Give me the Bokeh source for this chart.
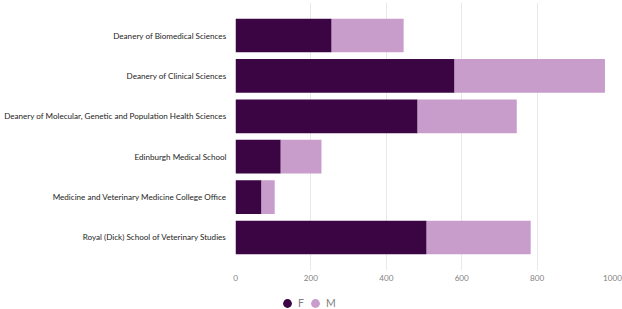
from bokeh.plotting import figure
from bokeh.layouts import column
from bokeh.models import Range1d, Legend, LegendItem, FixedTicker, ColumnDataSource
from bokeh.embed import file_html
from bokeh.resources import INLINE

categories = [
    "Deanery of Biomedical Sciences",
    "Deanery of Clinical Sciences",
    "Deanery of Molecular, Genetic and Population Health Sciences",
    "Edinburgh Medical School",
    "Medicine and Veterinary Medicine College Office",
    "Royal (Dick) School of Veterinary Studies",
]
female = [255, 581, 483, 120, 69, 507]
male = [191, 399, 263, 108, 35, 276]
x_ticks = [0, 200, 400, 600, 800, 1000]
series_names = ["F", "M"]
series_colors = ["#3B0443", "#C89DCB"]

ypos = list(range(len(categories)))
right_m = [f + m for f, m in zip(female, male)]
src = ColumnDataSource(dict(y=ypos, f=female, fm=right_m))

FONT = "Lato"

p = figure(width=622, height=288, output_backend="svg", toolbar_location=None,
           x_range=Range1d(0, 1000), y_range=Range1d(5.817, -0.817),
           min_border_left=235, min_border_right=10, min_border_top=2, min_border_bottom=18)
p.outline_line_color = None
p.background_fill_color = "white"

p.hbar(y="y", left=0, right="f", height=0.835, source=src,
       fill_color=series_colors[0], line_color=None)
p.hbar(y="y", left="f", right="fm", height=0.835, source=src,
       fill_color=series_colors[1], line_color=None)

# axes
p.yaxis.ticker = FixedTicker(ticks=ypos)
p.yaxis.major_label_overrides = {i: c for i, c in enumerate(categories)}
p.yaxis.axis_line_color = None
p.yaxis.major_tick_line_color = None
p.yaxis.major_tick_out = 0
p.yaxis.major_tick_in = 0
p.yaxis.minor_tick_line_color = None
p.yaxis.minor_tick_out = 0
p.yaxis.major_label_text_font = FONT
p.yaxis.major_label_text_font_size = "8.1px"
p.yaxis.major_label_text_color = "#252423"
p.yaxis.major_label_standoff = 9
p.ygrid.grid_line_color = None

p.xaxis.ticker = FixedTicker(ticks=x_ticks)
p.xaxis.axis_line_color = None
p.xaxis.major_tick_line_color = None
p.xaxis.major_tick_out = 0
p.xaxis.major_tick_in = 0
p.xaxis.minor_tick_line_color = None
p.xaxis.minor_tick_out = 0
p.xaxis.major_label_text_font = FONT
p.xaxis.major_label_text_font_size = "8.1px"
p.xaxis.major_label_text_color = "#808080"
p.xaxis.major_label_standoff = 4
p.xgrid.grid_line_color = "#E9E9E9"
p.xgrid.grid_line_width = 1

# legend strip (proxy markers fall outside its 0..1 range, only legend glyphs show)
lg = figure(width=622, height=21, output_backend="svg", toolbar_location=None,
            x_range=Range1d(0, 1), y_range=Range1d(0, 1),
            x_axis_location=None, y_axis_location=None,
            min_border_left=0, min_border_right=0, min_border_top=0, min_border_bottom=0)
lg.outline_line_color = None
lg.grid.visible = False
d_f = lg.scatter(x=female, y=ypos, size=9, marker="circle",
                 fill_color=series_colors[0], line_color=None)
d_m = lg.scatter(x=right_m, y=ypos, size=9, marker="circle",
                 fill_color=series_colors[1], line_color=None)

legend = Legend(items=[LegendItem(label=series_names[0], renderers=[d_f]),
                       LegendItem(label=series_names[1], renderers=[d_m])],
                orientation="horizontal", location=(41, -5))
legend.glyph_width = 22
legend.glyph_height = 22
legend.label_standoff = -5
legend.label_width = 0
legend.spacing = 0
legend.padding = 0
legend.margin = 0
legend.border_line_color = None
legend.background_fill_alpha = 0
legend.label_text_font = FONT
legend.label_text_font_size = "10.5px"
legend.label_text_color = "#808080"
legend.label_height = 9
lg.add_layout(legend, "center")

layout = column(p, lg, spacing=0)
open("out.html", "w").write(file_html(layout, INLINE))
